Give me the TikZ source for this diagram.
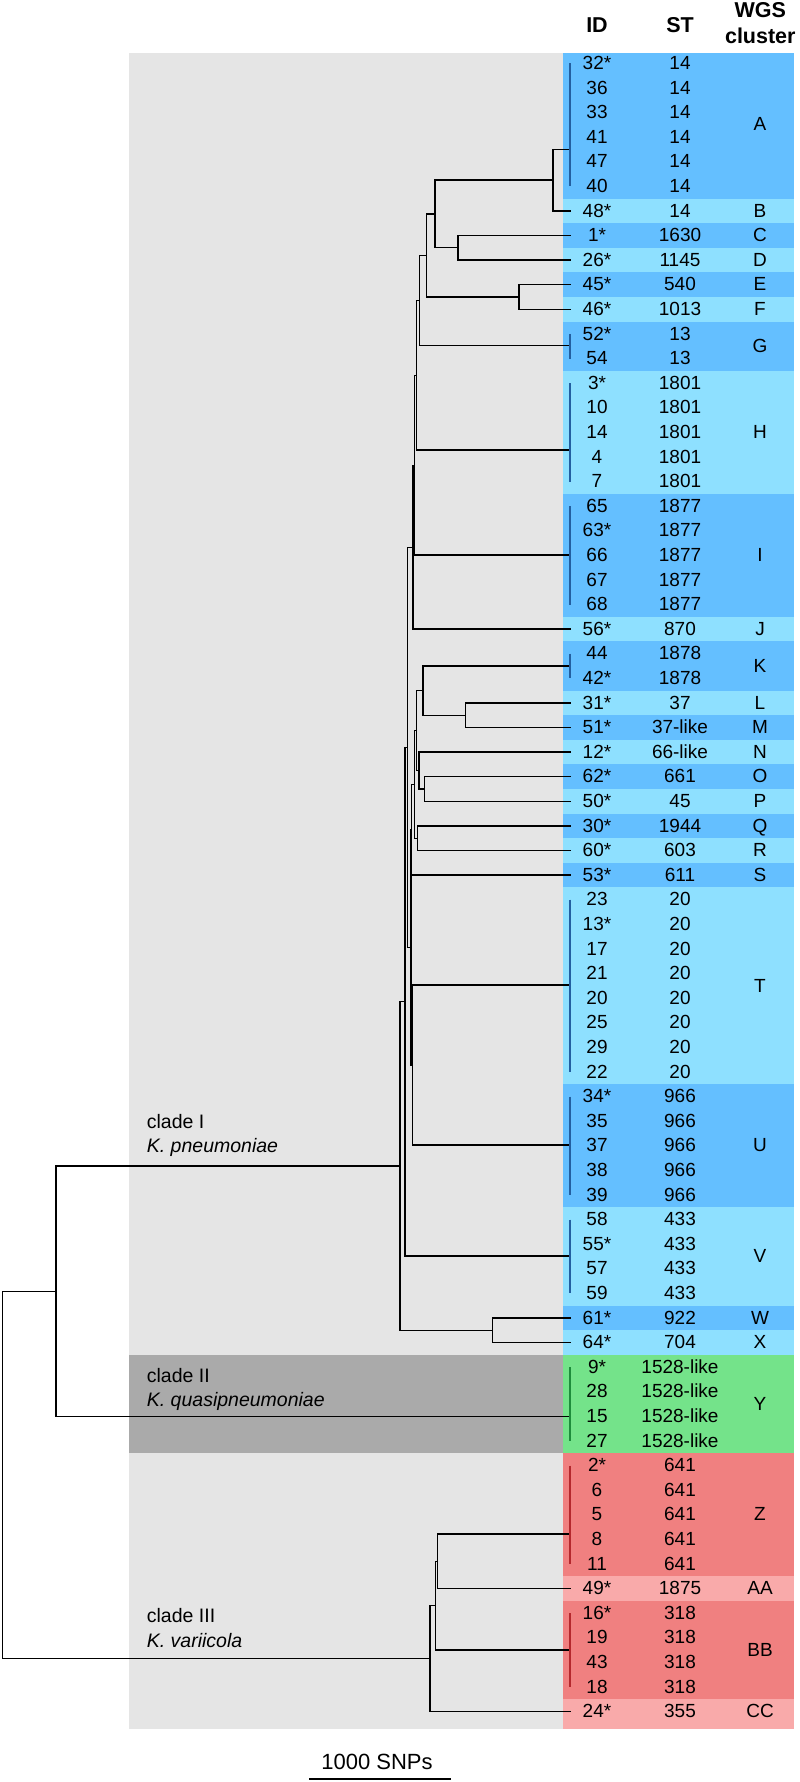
\documentclass[tikz,border=0pt]{standalone}
\usepackage{fontspec}
\setmainfont{Liberation Sans}
\definecolor{bggrey}{RGB}{229,229,229}
\definecolor{cladegrey}{RGB}{170,170,170}
\definecolor{bdark}{RGB}{100,191,255}
\definecolor{blight}{RGB}{142,224,255}
\definecolor{ygreen}{RGB}{116,227,138}
\definecolor{rdark}{RGB}{240,128,128}
\definecolor{rlight}{RGB}{249,170,170}
\definecolor{bline}{RGB}{35,95,160}
\definecolor{gline}{RGB}{30,140,60}
\definecolor{rline}{RGB}{180,40,45}
\begin{document}
\begin{tikzpicture}[x=1pt,y=-1pt,
  tree/.style={line width=1.3pt,black},
  clline/.style={line width=1.2pt},
  cell/.style={anchor=base,inner sep=0pt,font=\fontsize{19}{22}\selectfont},
  head/.style={anchor=base,inner sep=0pt,font=\fontsize{21.5}{25}\selectfont\bfseries},
  clade/.style={anchor=base west,inner sep=0pt,font=\fontsize{19.5}{23}\selectfont}]
\useasboundingbox (0,0) rectangle (800,1782);
% backgrounds
\fill[bggrey] (129,53) rectangle (563,1729);
\fill[cladegrey] (129,1354.8) rectangle (563,1453.2);
\foreach \a/\b/\lab/\c in {0/6/A/bdark,6/7/B/blight,7/8/C/bdark,8/9/D/blight,9/10/E/bdark,
  10/11/F/blight,11/13/G/bdark,13/18/H/blight,18/23/I/bdark,23/24/J/blight,24/26/K/bdark,
  26/27/L/blight,27/28/M/bdark,28/29/N/blight,29/30/O/bdark,30/31/P/blight,31/32/Q/bdark,
  32/33/R/blight,33/34/S/bdark,34/42/T/blight,42/47/U/bdark,47/51/V/blight,51/52/W/bdark,
  52/53/X/blight,53/57/Y/ygreen,57/62/Z/rdark,62/63/AA/rlight,63/67/BB/rdark,67/68/CC/rlight}{
  \pgfmathsetmacro\yt{max(53,51+24.6*\a)}
  \pgfmathsetmacro\yb{51+24.6*\b+5.2*(\b==68)}
  \pgfmathsetmacro\ym{(51+24.6*(\a+\b)/2)+6.2}
  \fill[\c] (563,\yt) rectangle (794,\yb);
  \node[cell] (cl\lab) at (760,\ym) {\lab};
}
% leaves
\coordinate (lA) at (570,149.3);
\coordinate (lB) at (570.7,210.9);
\coordinate (lC) at (570.7,235.5);
\coordinate (lD) at (570.7,260.1);
\coordinate (lE) at (570.7,284.7);
\coordinate (lF) at (570.7,309.3);
\coordinate (lG) at (570,345.7);
\coordinate (lH) at (570,450);
\coordinate (lI) at (570,555);
\coordinate (lJ) at (570.7,629.1);
\coordinate (lK) at (570,666);
\coordinate (lL) at (570.7,702.9);
\coordinate (lM) at (570.7,727.5);
\coordinate (lN) at (570.7,752.1);
\coordinate (lO) at (570.7,776.7);
\coordinate (lP) at (570.7,801.3);
\coordinate (lQ) at (570.7,825.9);
\coordinate (lR) at (570.7,850.5);
\coordinate (lS) at (570.7,875.1);
\coordinate (lT) at (570,985);
\coordinate (lU) at (570,1145);
\coordinate (lV) at (570,1256);
\coordinate (lW) at (570.7,1317.9);
\coordinate (lX) at (570.7,1342.5);
\coordinate (lY) at (570,1416.7);
\coordinate (lZ) at (570,1534);
\coordinate (lAA) at (570.7,1588.5);
\coordinate (lBB) at (570,1650);
\coordinate (lCC) at (570.7,1711.5);
% inner nodes
\coordinate (nAB) at (553,180.1);
\coordinate (nCD) at (458,247.8);
\coordinate (nAD) at (435,214);
\coordinate (nEF) at (519,297);
\coordinate (nAF) at (426.3,255.5);
\coordinate (nAG) at (419.7,300.6);
\coordinate (nAH) at (416.7,375.3);
\coordinate (nAI) at (414.3,465.2);
\coordinate (nAJ) at (413,547.2);
\coordinate (nLM) at (465.7,715.2);
\coordinate (nKM) at (423,690.6);
\coordinate (nOP) at (424.3,789);
\coordinate (nNP) at (419,770.6);
\coordinate (nKP) at (416.7,730.6);
\coordinate (nQR) at (417.7,838.2);
\coordinate (nKR) at (414.3,784.4);
\coordinate (nKS) at (411.7,829.8);
\coordinate (nTU) at (412.3,1065);
\coordinate (nKU) at (411,947.4);
\coordinate (nAU) at (407.3,747.3);
\coordinate (nAV) at (405,1001.7);
\coordinate (nWX) at (492.7,1330.2);
\coordinate (nCI) at (400,1166);
\coordinate (nCII) at (56,1291.4);
\coordinate (nZAA) at (437.3,1561.3);
\coordinate (nZBB) at (435.7,1605.6);
\coordinate (nCIII) at (430,1658.6);
\coordinate (root) at (2.5,1475);
% tree
\draw[tree] (lA) -| (nAB) |- (lB);
\draw[tree] (lC) -| (nCD) |- (lD);
\draw[tree] (nAB) -| (nAD) |- (nCD);
\draw[tree] (lE) -| (nEF) |- (lF);
\draw[tree] (nAD) -| (nAF) |- (nEF);
\draw[tree] (nAF) -| (nAG) |- (lG);
\draw[tree] (nAG) -| (nAH) |- (lH);
\draw[tree] (nAH) -| (nAI) |- (lI);
\draw[tree] (nAI) -| (nAJ) |- (lJ);
\draw[tree] (lL) -| (nLM) |- (lM);
\draw[tree] (lK) -| (nKM) |- (nLM);
\draw[tree] (lO) -| (nOP) |- (lP);
\draw[tree] (lN) -| (nNP) |- (nOP);
\draw[tree] (nKM) -| (nKP) |- (nNP);
\draw[tree] (lQ) -| (nQR) |- (lR);
\draw[tree] (nKP) -| (nKR) |- (nQR);
\draw[tree] (nKR) -| (nKS) |- (lS);
\draw[tree] (lT) -| (nTU) |- (lU);
\draw[tree] (nKS) -| (nKU) |- (nTU);
\draw[tree] (nAJ) -| (nAU) |- (nKU);
\draw[tree] (nAU) -| (nAV) |- (lV);
\draw[tree] (lW) -| (nWX) |- (lX);
\draw[tree] (nAV) -| (nCI) |- (nWX);
\draw[tree] (nCI) -| (nCII) |- (lY);
\draw[tree] (lZ) -| (nZAA) |- (lAA);
\draw[tree] (nZAA) -| (nZBB) |- (lBB);
\draw[tree] (nZBB) -| (nCIII) |- (lCC);
\draw[tree] (nCII) -| (root) |- (nCIII);
% cluster bars
\foreach \a/\b/\lc in {0/5/bline,11/12/bline,13/17/bline,18/22/bline,24/25/bline,34/41/bline,
  42/46/bline,47/50/bline,53/56/gline,57/61/rline,63/66/rline}{
  \draw[clline,\lc] (570,63.3+24.6*\a) -- (570,63.3+24.6*\b);
}
% table
\node[head] (hID) at (597,32.3) {ID};
\node[head] (hST) at (680,32.3) {ST};
\node[head] (hWGS) at (760.3,17.7) {WGS};
\node[head] (hcl) at (760.3,43.3) {cluster};
\foreach \i/\id/\st in {0/32*/14,1/36/14,2/33/14,3/41/14,4/47/14,5/40/14,6/48*/14,
  7/1*/1630,8/26*/1145,9/45*/540,10/46*/1013,11/52*/13,12/54/13,13/3*/1801,14/10/1801,
  15/14/1801,16/4/1801,17/7/1801,18/65/1877,19/63*/1877,20/66/1877,21/67/1877,22/68/1877,
  23/56*/870,24/44/1878,25/42*/1878,26/31*/37,27/51*/37-like,28/12*/66-like,29/62*/661,
  30/50*/45,31/30*/1944,32/60*/603,33/53*/611,34/23/20,35/13*/20,36/17/20,37/21/20,
  38/20/20,39/25/20,40/29/20,41/22/20,42/34*/966,43/35/966,44/37/966,45/38/966,46/39/966,
  47/58/433,48/55*/433,49/57/433,50/59/433,51/61*/922,52/64*/704,53/9*/1528-like,
  54/28/1528-like,55/15/1528-like,56/27/1528-like,57/2*/641,58/6/641,59/5/641,60/8/641,
  61/11/641,62/49*/1875,63/16*/318,64/19/318,65/43/318,66/18/318,67/24*/355}{
  \pgfmathsetmacro\yc{63.3+24.6*\i+6.2}
  \node[cell] (id\i) at (597,\yc) {\id};
  \node[cell] (st\i) at (680,\yc) {\st};
}
% clade labels
\node[clade] (cI) at (146.7,1128.3) {clade I};
\node[clade] (spI) at (146.7,1152.3) {\textit{K. pneumoniae}};
\node[clade] (cII) at (146.7,1382.7) {clade II};
\node[clade] (spII) at (146.7,1406.7) {\textit{K. quasipneumoniae}};
\node[clade] (cIII) at (146.7,1622.7) {clade III};
\node[clade] (spIII) at (146.7,1647.3) {\textit{K. variicola}};
% scale bar
\coordinate (sbL) at (309.3,1779);
\coordinate (sbR) at (450.7,1779);
\draw[tree] (sbL) -- (sbR);
\node[cell,font=\fontsize{22}{26}\selectfont] (sbar) at (377,1769.3) {1000 SNPs};
\end{tikzpicture}
\end{document}
